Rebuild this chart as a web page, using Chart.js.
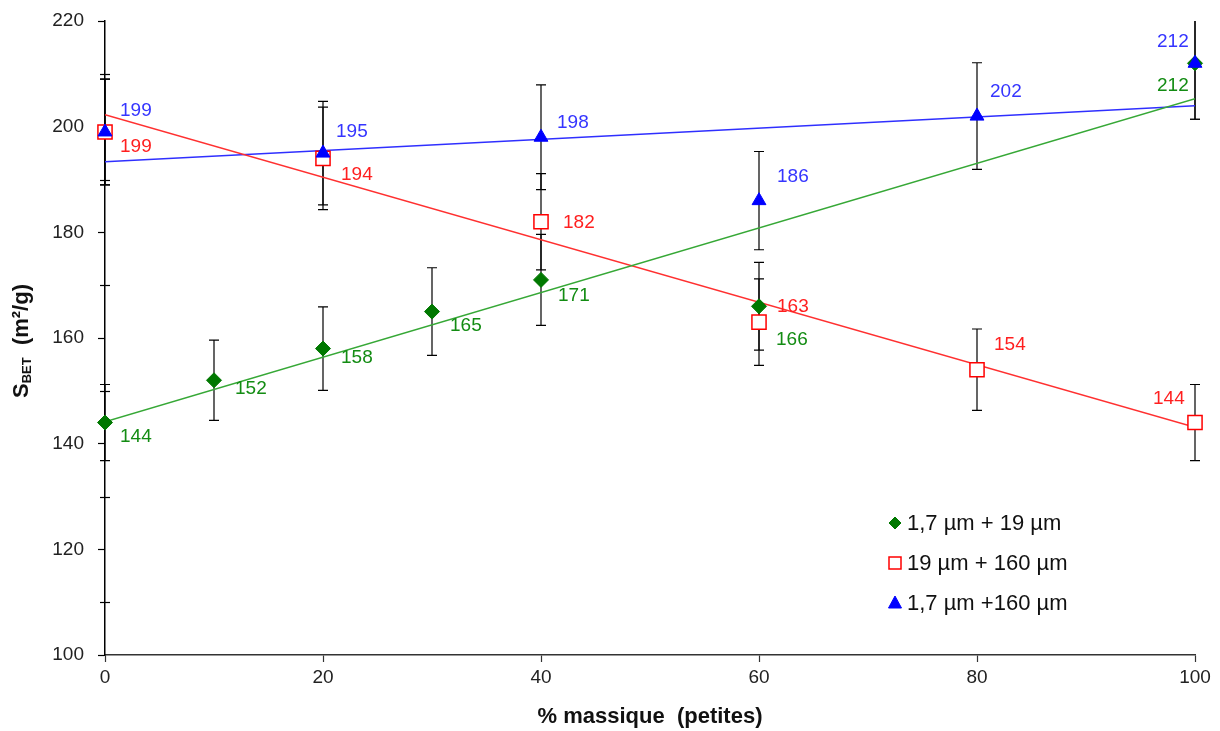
<!DOCTYPE html>
<html>
<head>
<meta charset="utf-8">
<script src="https://cdn.jsdelivr.net/npm/chart.js@4/dist/chart.umd.min.js"></script>
<style>
  html, body { margin: 0; padding: 0; background: #fff; }
  #wrap { width: 1220px; height: 731px; }
</style>
</head>
<body>
<div id="wrap"><canvas id="sbetChart" width="1220" height="731"></canvas></div>
<script>
// data
const xGreen = [0, 10, 20, 30, 40, 60, 100]
const yGreen = [144, 152, 158, 165, 171, 166, 212]
const errGreen = [7.2, 7.6, 7.9, 8.3, 8.6, 8.3, 10.6]

const xRed = [0, 20, 40, 60, 80, 100]
const yRed = [199, 194, 182, 163, 154, 144]
const errRed = [10.0, 9.7, 9.1, 8.2, 7.7, 7.2]

const xBlue = [0, 20, 40, 60, 80, 100]
const yBlue = [199, 195, 198, 186, 202, 212]
const errBlue = [10.0, 9.8, 9.9, 9.3, 10.1, 10.6]

const seriesNames = ["1,7 µm + 19 µm", "19 µm + 160 µm", "1,7 µm +160 µm"]
const yTicks = [100, 120, 140, 160, 180, 200, 220]
const xTicks = [0, 20, 40, 60, 80, 100]

const FONT = "'Liberation Sans', Arial, sans-serif"

function pts(xs, ys) {
  return xs.map((x, i) => ({ x: x, y: ys[i] }))
}

// least squares trend line over the data range
function trend(xs, ys) {
  var n = xs.length
  var mx = xs.reduce((a, b) => a + b, 0) / n
  var my = ys.reduce((a, b) => a + b, 0) / n
  var sxy = 0, sxx = 0
  for (let i = 0; i < n; i++) {
    sxy += (xs[i] - mx) * (ys[i] - my)
    sxx += (xs[i] - mx) * (xs[i] - mx)
  }
  var m = sxy / sxx
  var b = my - m * mx
  var x0 = Math.min(...xs), x1 = Math.max(...xs)
  return [{ x: x0, y: m * x0 + b }, { x: x1, y: m * x1 + b }]
}

// label placement (text left edge / middle, relative to the point)
const labelOffsets = {
  green: [[15, 14], [21, 8], [18, 9], [18, 14], [17, 16], [17, 33], [-38, 22]],
  red: [[15, 15], [18, 16], [22, 1], [18, -15], [17, -25], [-42, -24]],
  blue: [[15, -21], [13, -21], [16, -14], [18, -24], [13, -24], [-38, -22]]
}

const errorBars = {
  id: 'errorBars',
  beforeDatasetsDraw(chart) {
    const ctx = chart.ctx
    const xs = chart.scales.x, ys = chart.scales.y
    const area = chart.chartArea
    ctx.save()
    ctx.strokeStyle = '#000'
    ctx.lineWidth = 1.2
    chart.data.datasets.forEach(ds => {
      if (!ds.errors) return
      ds.data.forEach((p, i) => {
        const px = xs.getPixelForValue(p.x)
        const hi = ys.getPixelForValue(p.y + ds.errors[i])
        const lo = ys.getPixelForValue(p.y - ds.errors[i])
        const top = Math.max(hi, area.top)
        const bot = Math.min(lo, area.bottom)
        ctx.beginPath()
        ctx.moveTo(px, top)
        ctx.lineTo(px, bot)
        if (hi >= area.top) { ctx.moveTo(px - 5, hi); ctx.lineTo(px + 5, hi) }
        if (lo <= area.bottom) { ctx.moveTo(px - 5, lo); ctx.lineTo(px + 5, lo) }
        ctx.stroke()
      })
    })
    ctx.restore()
  }
}

function legendMarker(ctx, style, x, y) {
  ctx.beginPath()
  if (style === 'rectRot') {
    ctx.moveTo(x, y - 6); ctx.lineTo(x + 6, y); ctx.lineTo(x, y + 6); ctx.lineTo(x - 6, y); ctx.closePath()
  } else if (style === 'rect') {
    ctx.rect(x - 6, y - 6, 12, 12)
  } else {
    ctx.moveTo(x, y - 7); ctx.lineTo(x + 6.5, y + 5); ctx.lineTo(x - 6.5, y + 5); ctx.closePath()
  }
  ctx.fill()
  ctx.stroke()
}

const extras = {
  id: 'extras',
  afterDatasetsDraw(chart) {
    const ctx = chart.ctx
    const xs = chart.scales.x, ys = chart.scales.y
    ctx.save()
    // value labels
    ctx.font = '19px ' + FONT
    ctx.textAlign = 'left'
    ctx.textBaseline = 'middle'
    chart.data.datasets.forEach(ds => {
      if (!ds.labelKey) return
      const offs = labelOffsets[ds.labelKey]
      ctx.fillStyle = ds.labelColor
      ds.data.forEach((p, i) => {
        const px = xs.getPixelForValue(p.x)
        const py = ys.getPixelForValue(p.y)
        ctx.fillText(String(p.y), px + offs[i][0], py + offs[i][1])
      })
    })
    ctx.restore()
  },
  afterDraw(chart) {
    const ctx = chart.ctx
    const ys = chart.scales.y
    const area = chart.chartArea
    ctx.save()
    // minor ticks crossing the y axis
    ctx.strokeStyle = '#000'
    ctx.lineWidth = 1.2
    for (let v = 110; v < 220; v += 20) {
      const py = Math.round(ys.getPixelForValue(v)) + 0.5
      ctx.beginPath()
      ctx.moveTo(area.left - 5, py)
      ctx.lineTo(area.left + 5, py)
      ctx.stroke()
    }

    // legend, in the order of seriesNames
    const lx = 895, ly = [523, 563, 603]
    seriesNames.forEach((name, i) => {
      const ds = chart.data.datasets.find(d => d.label === name)
      ctx.fillStyle = ds.pointBackgroundColor
      ctx.strokeStyle = ds.pointBorderColor
      ctx.lineWidth = ds.pointBorderWidth
      legendMarker(ctx, ds.pointStyle, lx, ly[i])
      ctx.fillStyle = '#111'
      ctx.font = '22px ' + FONT
      ctx.textAlign = 'left'
      ctx.textBaseline = 'middle'
      ctx.fillText(name, 907, ly[i] + 1)
    })

    // x axis title
    ctx.fillStyle = '#111'
    ctx.font = 'bold 22px ' + FONT
    ctx.textAlign = 'center'
    ctx.textBaseline = 'middle'
    ctx.fillText('% massique  (petites)', (area.left + area.right) / 2, 717)

    // y axis title with subscript
    const big = 'bold 22px ' + FONT, small = 'bold 13px ' + FONT
    const parts = [['S', big, 0], ['BET', small, 5], ['  (m²/g)', big, 0]]
    let total = 0
    parts.forEach(p => { ctx.font = p[1]; total += ctx.measureText(p[0]).width })
    ctx.translate(22, 341)
    ctx.rotate(-Math.PI / 2)
    ctx.textAlign = 'left'
    ctx.textBaseline = 'middle'
    let cx = -total / 2
    parts.forEach(p => {
      ctx.font = p[1]
      ctx.fillText(p[0], cx, p[2])
      cx += ctx.measureText(p[0]).width
    })
    ctx.restore()
  }
}

const data = {
  datasets: [
    {
      label: seriesNames[2],
      data: pts(xBlue, yBlue),
      errors: errBlue,
      labelKey: 'blue',
      labelColor: '#3535ff',
      showLine: false,
      clip: false,
      pointStyle: 'triangle',
      pointRadius: 8,
      pointBackgroundColor: '#0000ff',
      pointBorderColor: '#0000ff',
      pointBorderWidth: 1,
      order: 0
    },
    {
      label: seriesNames[0],
      data: pts(xGreen, yGreen),
      errors: errGreen,
      labelKey: 'green',
      labelColor: '#138c13',
      showLine: false,
      clip: false,
      pointStyle: 'rectRot',
      pointRadius: 7.5,
      pointBackgroundColor: '#007800',
      pointBorderColor: '#007800',
      pointBorderWidth: 1,
      order: 1
    },
    {
      label: seriesNames[1],
      data: pts(xRed, yRed),
      errors: errRed,
      labelKey: 'red',
      labelColor: '#ff1f1f',
      showLine: false,
      clip: false,
      pointStyle: 'rect',
      pointRadius: 10,
      pointBackgroundColor: '#ffffff',
      pointBorderColor: '#ff0000',
      pointBorderWidth: 1.5,
      order: 2
    },
    {
      data: trend(xGreen, yGreen),
      showLine: true,
      borderColor: '#36a836',
      borderWidth: 1.5,
      pointRadius: 0,
      order: 3
    },
    {
      data: trend(xRed, yRed),
      showLine: true,
      borderColor: '#ff3030',
      borderWidth: 1.5,
      pointRadius: 0,
      order: 3
    },
    {
      data: trend(xBlue, yBlue),
      showLine: true,
      borderColor: '#2f2fff',
      borderWidth: 1.5,
      pointRadius: 0,
      order: 3
    }
  ]
}

const config = {
  type: 'scatter',
  data,
  options: {
    responsive: false,
    devicePixelRatio: 1,
    animation: false,
    events: [],
    layout: { padding: { top: 21, right: 25, left: 0, bottom: 0 } },
    plugins: {
      legend: { display: false },
      tooltip: { enabled: false }
    },
    scales: {
      x: {
        type: 'linear',
        min: 0,
        max: 100,
        afterFit(s) { s.height = 76; s.paddingLeft = 0; s.paddingRight = 0 },
        afterBuildTicks(s) { s.ticks = xTicks.map(v => ({ value: v })) },
        grid: { drawOnChartArea: false, drawTicks: true, tickLength: 7, tickColor: '#333', tickWidth: 1.2 },
        border: { display: true, color: '#333', width: 1.5 },
        ticks: { padding: 4, color: '#222', font: { family: FONT, size: 19 } }
      },
      y: {
        type: 'linear',
        min: 100,
        max: 220,
        afterFit(s) { s.width = 105; s.paddingTop = 0; s.paddingBottom = 0 },
        afterBuildTicks(s) { s.ticks = yTicks.map(v => ({ value: v })) },
        grid: { drawOnChartArea: false, drawTicks: true, tickLength: 7, tickColor: '#000', tickWidth: 1.2 },
        border: { display: true, color: '#000', width: 1.5 },
        ticks: { padding: 14, color: '#222', font: { family: FONT, size: 19 } }
      }
    }
  },
  plugins: [errorBars, extras]
}

const myChart = new Chart(document.getElementById('sbetChart'), config)
</script>
</body>
</html>
